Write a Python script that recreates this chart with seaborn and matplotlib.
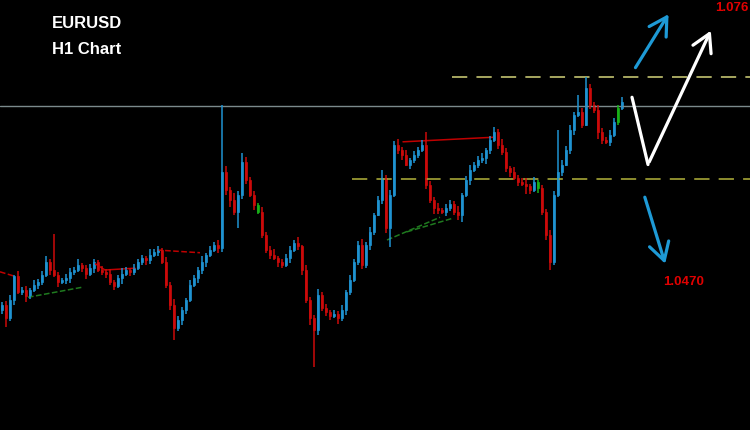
import numpy as np
import pandas as pd
import matplotlib
matplotlib.use("Agg")
import matplotlib.pyplot as plt
import seaborn as sns

# 收盘价 (H1, 每根K线)
first_open = 1.0430
closes = [
    1.0436, 1.0421, 1.0441, 1.0467, 1.0450, 1.0452, 1.0445, 1.0452, 1.0458, 1.0461, 1.0469, 1.0483, 1.0474,
    1.0469, 1.0461, 1.0463, 1.0465, 1.0472, 1.0474, 1.0480, 1.0476, 1.0470, 1.0476, 1.0483, 1.0474, 1.0472,
    1.0470, 1.0461, 1.0456, 1.0465, 1.0470, 1.0474, 1.0472, 1.0476, 1.0483, 1.0487, 1.0485, 1.0491, 1.0494,
    1.0496, 1.0483, 1.0458, 1.0436, 1.0410, 1.0419, 1.0430, 1.0441, 1.0458, 1.0465, 1.0474, 1.0483, 1.0491,
    1.0496, 1.0502, 1.0498, 1.0582, 1.0562, 1.0551, 1.0538, 1.0557, 1.0593, 1.0573, 1.0557, 1.0546, 1.0538,
    1.0513, 1.0496, 1.0491, 1.0487, 1.0483, 1.0480, 1.0487, 1.0496, 1.0504, 1.0500, 1.0474, 1.0441, 1.0421,
    1.0408, 1.0447, 1.0432, 1.0428, 1.0423, 1.0426, 1.0421, 1.0430, 1.0450, 1.0463, 1.0483, 1.0502, 1.0480,
    1.0502, 1.0516, 1.0535, 1.0551, 1.0575, 1.0520, 1.0557, 1.0612, 1.0606, 1.0601, 1.0590, 1.0595, 1.0601,
    1.0606, 1.0612, 1.0568, 1.0551, 1.0542, 1.0540, 1.0538, 1.0542, 1.0547, 1.0538, 1.0535, 1.0557, 1.0573,
    1.0584, 1.0590, 1.0595, 1.0597, 1.0606, 1.0617, 1.0626, 1.0612, 1.0604, 1.0586, 1.0582, 1.0575, 1.0571,
    1.0569, 1.0566, 1.0562, 1.0571, 1.0564, 1.0538, 1.0513, 1.0483, 1.0557, 1.0582, 1.0590, 1.0606, 1.0628,
    1.0645, 1.0648, 1.0634, 1.0674, 1.0656, 1.0650, 1.0626, 1.0617, 1.0615, 1.0623, 1.0637, 1.0652, 1.0659,
]
# 上下影线长度 (点)
wick_hi = [
    3, 4, 5, 2, 6, 3, 4, 2, 5, 3, 4, 6, 3,
    40, 3, 2, 5, 4, 3, 6, 2, 4, 5, 3, 2, 4,
    3, 5, 2, 4, 6, 3, 2, 5, 3, 4, 2, 6, 3,
    4, 2, 5, 3, 6, 4, 3, 2, 5, 4, 3, 6, 2,
    4, 3, 5, 74, 6, 3, 8, 4, 10, 5, 3, 4, 2,
    5, 3, 4, 6, 2, 3, 5, 4, 3, 6, 2, 5, 3,
    4, 6, 3, 5, 2, 4, 3, 6, 2, 5, 3, 4, 6,
    3, 5, 2, 4, 9, 3, 5, 4, 6, 3, 5, 2, 4,
    3, 5, 14, 4, 3, 6, 2, 5, 4, 3, 6, 2, 4,
    5, 3, 4, 6, 2, 4, 5, 3, 6, 4, 2, 5, 3,
    4, 6, 3, 5, 2, 4, 3, 5, 4, 46, 5, 4, 6,
    3, 19, 4, 12, 5, 3, 6, 4, 3, 5, 4, 3, 5,
]
wick_lo = [
    4, 10, 3, 5, 2, 4, 6, 3, 2, 5, 4, 3, 5,
    3, 6, 2, 4, 5, 3, 2, 4, 6, 3, 5, 2, 4,
    5, 3, 4, 2, 6, 3, 5, 4, 2, 3, 6, 4, 3,
    5, 2, 4, 6, 13, 3, 5, 4, 2, 3, 5, 4, 6,
    3, 2, 5, 4, 6, 8, 3, 18, 5, 4, 3, 6, 2,
    4, 3, 5, 2, 6, 4, 3, 5, 2, 4, 6, 3, 8,
    41, 6, 3, 5, 4, 2, 6, 3, 5, 4, 2, 3, 5,
    4, 6, 3, 2, 4, 5, 21, 3, 4, 6, 2, 5, 3,
    4, 2, 5, 3, 6, 4, 2, 5, 3, 4, 6, 8, 3,
    5, 2, 4, 3, 6, 4, 2, 5, 3, 4, 6, 2, 5,
    3, 8, 4, 2, 5, 3, 6, 9, 4, 3, 5, 2, 4,
    6, 3, 4, 2, 5, 3, 8, 4, 2, 5, 3, 4, 2,
]
green_bars = [64, 134, 154]

# 水平线
last_price = 1.0654
resist_level = 1.0686
support_level = 1.0574

# 趋势线 (K线序号, 价格)
trend_lines = [
    ([-0.5, 3.25], [1.0472, 1.0467], "#c00000", "--"),
    ([6.5, 20.0], [1.0444, 1.0455], "#1f7a1f", "--"),
    ([23.25, 25.75, 33.25], [1.0481, 1.0474, 1.0476], "#c00000", "-"),
    ([38.75, 49.5], [1.0496, 1.0493], "#c00000", "--"),
    ([100.25, 122.75], [1.0615, 1.0620], "#c00000", "-"),
    ([96.25, 109.5], [1.0507, 1.0532], "#1f7a1f", "--"),
    ([101.25, 112.75], [1.0516, 1.0531], "#1f7a1f", "--"),
]

# 预测箭头
up_arrow = ([158.0, 167.0], [1.0694, 1.0758])
down_arrow = ([160.5, 166.0], [1.0557, 1.0478])
white_path = ([157.5, 161.5, 177.5], [1.0664, 1.0590, 1.0740])

df = pd.DataFrame({"close": closes})
df["open"] = [first_open] + closes[:-1]
df["high"] = df[["open", "close"]].max(axis=1) + np.array(wick_hi) * 0.0001
df["low"] = df[["open", "close"]].min(axis=1) - np.array(wick_lo) * 0.0001
df["idx"] = np.arange(len(df))

up_col = "#1f93d1"
dn_col = "#cc0a0a"
colors = [up_col if c >= o else dn_col for o, c in zip(df["open"], df["close"])]
for g in green_bars:
    colors[g] = "#18b018"

sns.set_theme(style="dark", rc={"axes.facecolor": "black", "figure.facecolor": "black"})
plt.rcParams["font.family"] = ["Liberation Sans", "DejaVu Sans"]

fig = plt.figure(figsize=(7.5, 4.3), dpi=100)
ax = fig.add_axes([0, 0, 1, 1])
ax.set_facecolor("black")

ax.axhline(last_price, color="#7b8a8c", lw=1.0)
ax.hlines(resist_level, 112.5, 187, color="#d4d47a", lw=1.1, linestyles=(0, (10, 6)))
ax.hlines(support_level, 87.5, 187, color="#b4b43c", lw=1.1, linestyles=(0, (10, 6)))

for xs, ys, c, ls in trend_lines:
    sns.lineplot(x=xs, y=ys, ax=ax, color=c, linestyle=ls, lw=1.1, sort=False)

# K线
ax.vlines(df["idx"], df["low"], df["high"], colors=colors, lw=1.1)
body_lo = df[["open", "close"]].min(axis=1)
body_h = (df["close"] - df["open"]).abs()
ax.bar(df["idx"], body_h, bottom=body_lo, width=0.72, color=colors, edgecolor=colors, linewidth=0.5)

arrow_kw = dict(arrowstyle="->,head_length=0.7,head_width=0.4", lw=2.3, mutation_scale=18)
ax.annotate("", xy=(up_arrow[0][1], up_arrow[1][1]), xytext=(up_arrow[0][0], up_arrow[1][0]),
            arrowprops=dict(color="#1e9ad6", **arrow_kw))
ax.annotate("", xy=(down_arrow[0][1], down_arrow[1][1]), xytext=(down_arrow[0][0], down_arrow[1][0]),
            arrowprops=dict(color="#1e9ad6", **arrow_kw))
ax.plot(white_path[0][:2], white_path[1][:2], color="white", lw=2.3, solid_capstyle="round")
ax.annotate("", xy=(white_path[0][2], white_path[1][2]), xytext=(white_path[0][1], white_path[1][1]),
            arrowprops=dict(color="white", **arrow_kw))

ax.text(0.116, 0.946, "EURUSD", transform=ax.transAxes, color="white", fontsize=12,
        fontweight="bold", ha="center", va="center")
ax.text(0.116, 0.884, "H1 Chart", transform=ax.transAxes, color="white", fontsize=12,
        fontweight="bold", ha="center", va="center")
ax.text(0.998, 0.981, "1.076", transform=ax.transAxes, color="#e00000", fontsize=9.5,
        fontweight="bold", ha="right", va="center")
ax.text(0.912, 0.344, "1.0470", transform=ax.transAxes, color="#e00000", fontsize=9.5,
        fontweight="bold", ha="center", va="center")

ax.set_xlim(-0.5, 187.0)
ax.set_ylim(1.0298, 1.0771)
ax.set_xticks([])
ax.set_yticks([])
ax.set_xlabel("")
ax.set_ylabel("")
for s in ax.spines.values():
    s.set_visible(False)

fig.savefig("out.png", dpi=100, facecolor="black")
